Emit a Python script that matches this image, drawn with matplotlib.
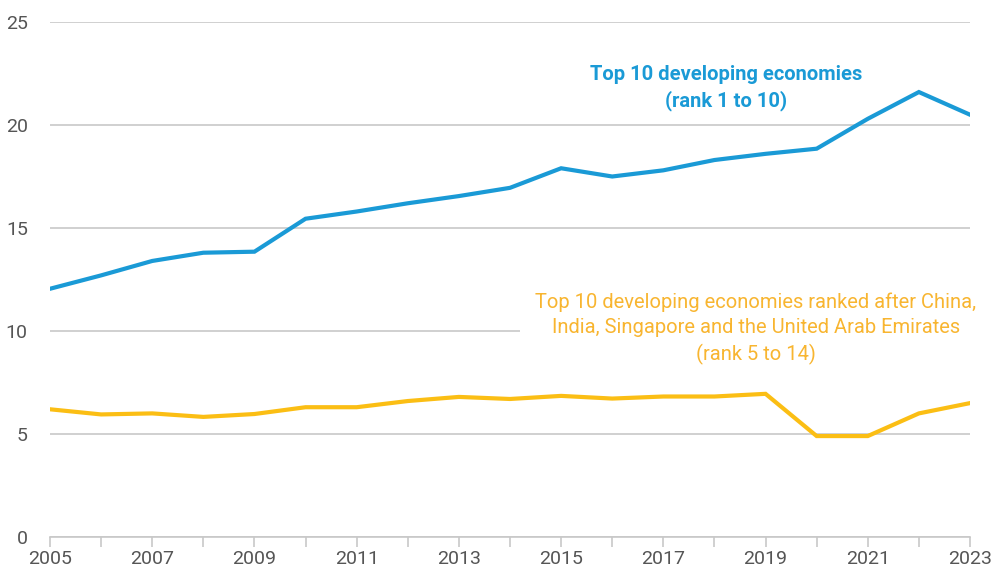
import matplotlib
matplotlib.use("Agg")
import matplotlib.pyplot as plt
from matplotlib import font_manager

# data
years = list(range(2005, 2024))
top10 = [12.05, 12.7, 13.4, 13.8, 13.85, 15.45, 15.8, 16.2, 16.55, 16.95,
         17.9, 17.5, 17.8, 18.3, 18.6, 18.85, 20.3, 21.6, 20.5]
top10_after = [6.2, 5.95, 6.0, 5.83, 5.97, 6.3, 6.3, 6.6, 6.8, 6.7,
               6.85, 6.72, 6.82, 6.82, 6.95, 4.9, 4.9, 6.0, 6.5]
yticks = [0, 5, 10, 15, 20, 25]
xticklabels = [2005, 2007, 2009, 2011, 2013, 2015, 2017, 2019, 2021, 2023]

names = {f.name for f in font_manager.fontManager.ttflist}
fam = "Liberation Sans Narrow" if "Liberation Sans Narrow" in names else "Roboto"
plt.rcParams["font.family"] = [fam, "DejaVu Sans"]

blue = "#1a9ad6"
yellow = "#fbbe14"
grid_c = "#c8c8c8"
txt_c = "#555555"

fig = plt.figure(figsize=(9.92, 5.68), dpi=100)
ax = fig.add_axes([50 / 992, 1 - 537 / 568, 920 / 992, 515 / 568])

ax.plot(years, top10, color=blue, lw=3, solid_joinstyle="miter", zorder=3)
ax.plot(years, top10_after, color=yellow, lw=3, solid_joinstyle="miter", zorder=3)

ax.set_xlim(2005, 2023)
ax.set_ylim(0, 25)
ax.set_yticks(yticks)
ax.set_xticks(years, minor=False)
ax.set_xticklabels([str(y) if y in xticklabels else "" for y in years])
ax.yaxis.grid(True, color=grid_c, lw=1.2, zorder=1)
for s in ["top", "right", "left"]:
    ax.spines[s].set_visible(False)
ax.spines["bottom"].set_color(grid_c)
ax.spines["bottom"].set_linewidth(1.2)
ax.tick_params(axis="y", length=0, pad=16, labelsize=14, labelcolor=txt_c)
ax.tick_params(axis="x", length=7, color=grid_c, width=1.2, pad=2,
               labelsize=14, labelcolor=txt_c)

ax.text(2018.23, 21.8, "Top 10 developing economies\n(rank 1 to 10)",
        color=blue, fontsize=14.5, fontweight="bold", ha="center", va="center",
        linespacing=1.4, zorder=4)
ax.text(2018.81, 10.12, "Top 10 developing economies ranked after China,\n"
        "India, Singapore and the United Arab Emirates\n(rank 5 to 14)",
        color="#f8b530", fontsize=14.5, ha="center", va="center",
        linespacing=1.4, zorder=4,
        bbox=dict(facecolor="white", edgecolor="none", pad=11))

fig.savefig("out.png", dpi=100)
